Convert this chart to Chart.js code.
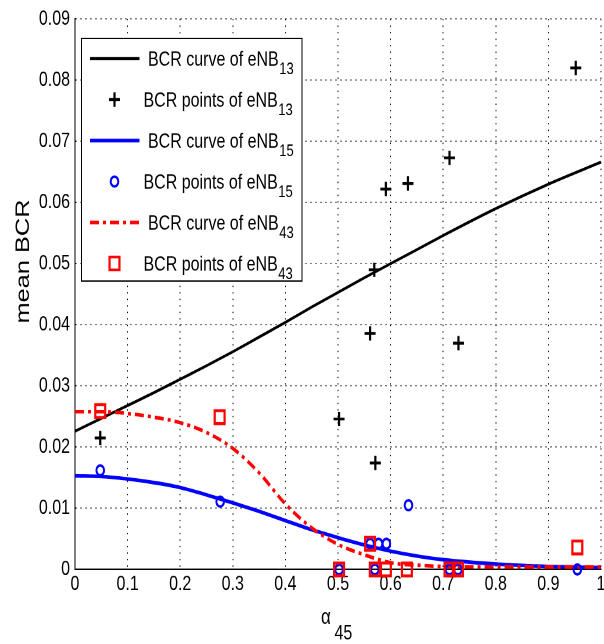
<!DOCTYPE html>
<html>
<head>
<meta charset="utf-8">
<script src="https://cdn.jsdelivr.net/npm/chart.js@4/dist/chart.umd.min.js"></script>
<style>
  html { margin: 0; padding: 0; overflow: hidden; background: #fff; }
  body { margin: 0; padding: 0; width: 604px; height: 644px; overflow: hidden; background: #fff; }
  /* a imagem original foi esticada na vertical, então esticamos o canvas também */
  #wrap { position: relative; width: 640px; height: 495px; transform: scaleY(1.301); transform-origin: 0 0; }
</style>
</head>
<body>
<div id="wrap"><canvas id="myChart"></canvas></div>
<script>
// Eixos
const xTickValues = [0, 0.1, 0.2, 0.3, 0.4, 0.5, 0.6, 0.7, 0.8, 0.9, 1];
const xTickLabels = ['0', '0.1', '0.2', '0.3', '0.4', '0.5', '0.6', '0.7', '0.8', '0.9', '1'];
const yTickValues = [0, 0.01, 0.02, 0.03, 0.04, 0.05, 0.06, 0.07, 0.08, 0.09];
const yTickLabels = ['0', '0.01', '0.02', '0.03', '0.04', '0.05', '0.06', '0.07', '0.08', '0.09'];

// Curvas
const curveX = [0, 0.05, 0.1, 0.15, 0.2, 0.25, 0.3, 0.35, 0.4, 0.45, 0.5, 0.55, 0.6, 0.65, 0.7, 0.8, 0.9, 1];
const curve13 = [0.0226, 0.0247, 0.0268, 0.0289, 0.0311, 0.0333, 0.0356, 0.0380, 0.0404, 0.0429, 0.0453, 0.0477, 0.0500, 0.0523, 0.0546, 0.0590, 0.0630, 0.0666];
const curve15 = [0.0153, 0.0152, 0.0148, 0.0142, 0.0134, 0.0122, 0.0109, 0.0095, 0.0080, 0.0065, 0.0052, 0.0040, 0.0030, 0.0022, 0.0016, 0.0009, 0.0005, 0.0003];
const curve43 = [0.0258, 0.0258, 0.0255, 0.0249, 0.0240, 0.0224, 0.0198, 0.0158, 0.0107, 0.0068, 0.0041, 0.0024, 0.0011, 0.0007, 0.0005, 0.0004, 0.0004, 0.0004];

// Pontos
const points13X = [0.048, 0.502, 0.561, 0.569, 0.571, 0.591, 0.633, 0.712, 0.729, 0.952];
const points13Y = [0.0215, 0.0246, 0.0386, 0.0490, 0.0174, 0.0622, 0.0631, 0.0673, 0.0370, 0.0820];
const points15X = [0.048, 0.276, 0.634, 0.561, 0.577, 0.592, 0.502, 0.570, 0.712, 0.728, 0.955];
const points15Y = [0.0162, 0.0111, 0.0105, 0.0042, 0.0042, 0.0042, 0, 0, 0, 0, 0];
const points43X = [0.048, 0.275, 0.561, 0.502, 0.570, 0.591, 0.631, 0.712, 0.728, 0.955];
const points43Y = [0.0259, 0.0249, 0.0042, 0, 0, 0, 0, 0, 0, 0.0036];

// Legenda
const legendLabels = ['BCR curve of eNB', 'BCR points of eNB', 'BCR curve of eNB', 'BCR points of eNB', 'BCR curve of eNB', 'BCR points of eNB'];
const legendSubs = ['13', '13', '15', '15', '43', '43'];

const FONT = '"Liberation Sans", Arial, Helvetica, sans-serif';
const toXY = (xs, ys) => xs.map((x, i) => ({ x, y: ys[i] }));

const curveSet = (label, ys, color, width, dash, order) => ({
  label, data: toXY(curveX, ys), showLine: true, borderColor: color, backgroundColor: color,
  borderWidth: width, borderDash: dash, pointRadius: 0, cubicInterpolationMode: 'monotone', order,
});
const pointSet = (label, xs, ys, color, style, radius, width, order) => ({
  label, data: toXY(xs, ys), showLine: false, borderColor: color, backgroundColor: 'rgba(0,0,0,0)',
  pointStyle: style, pointRadius: radius, borderWidth: width, clip: false, order,
});

const datasets = [
  curveSet('curve13', curve13, '#000000', 2.2, [], 5),
  pointSet('points13', points13X, points13Y, '#000000', 'cross', 5.5, 2.2, 2),
  curveSet('curve15', curve15, '#0000ff', 2.8, [], 4),
  pointSet('points15', points15X, points15Y, '#0000ff', 'circle', 3.8, 2, 1),
  curveSet('curve43', curve43, '#ff0000', 2.8, [9, 4, 3, 4], 3),
  pointSet('points43', points43X, points43Y, '#ff0000', 'rect', 7, 2.2, 0),
];

// Desenha um marcador da legenda
const drawMarker = (ctx, ds, x, y) => {
  ctx.save();
  ctx.strokeStyle = ds.borderColor;
  ctx.lineWidth = ds.borderWidth;
  const r = ds.pointRadius;
  ctx.beginPath();
  if (ds.pointStyle === 'cross') {
    ctx.moveTo(x - r, y); ctx.lineTo(x + r, y);
    ctx.moveTo(x, y - r); ctx.lineTo(x, y + r);
  } else if (ds.pointStyle === 'circle') {
    ctx.arc(x, y, r, 0, Math.PI * 2);
  } else {
    const s = r * Math.SQRT1_2;
    ctx.rect(x - s, y - s, 2 * s, 2 * s);
  }
  ctx.stroke();
  ctx.restore();
};

const drawSubText = (ctx, x, y, main, sub, size, subSize, drop) => {
  ctx.font = `${size}px ${FONT}`;
  ctx.fillText(main, x, y);
  const w = ctx.measureText(main).width;
  ctx.font = `${subSize}px ${FONT}`;
  ctx.fillText(sub, x + w + 0.5, y + drop);
};

// Plugin: legenda estilo MATLAB e títulos com subscrito
const matlabDecor = {
  id: 'matlabDecor',
  afterDraw(chart) {
    const ctx = chart.ctx;
    ctx.save();
    // caixa da legenda
    const box = { left: 81, top: 29, right: 301.5, bottom: 215.5 };
    ctx.fillStyle = '#fff';
    ctx.fillRect(box.left, box.top, box.right - box.left, box.bottom - box.top);
    ctx.strokeStyle = '#000';
    ctx.lineWidth = 1;
    ctx.strokeRect(box.left + 0.5, box.top + 0.5, box.right - box.left, box.bottom - box.top);

    chart.data.datasets.forEach((ds, i) => {
      const yc = 45 + i * 31.5;
      if (ds.showLine) {
        ctx.save();
        ctx.strokeStyle = ds.borderColor;
        ctx.lineWidth = ds.borderWidth;
        ctx.setLineDash(ds.borderDash || []);
        ctx.beginPath();
        ctx.moveTo(90, yc);
        ctx.lineTo(139.5, yc);
        ctx.stroke();
        ctx.restore();
      } else {
        drawMarker(ctx, ds, 114.5, yc);
      }
      ctx.fillStyle = '#000';
      ctx.textAlign = 'left';
      ctx.textBaseline = 'alphabetic';
      const tx = ds.showLine ? 148 : 143.5;
      drawSubText(ctx, tx, yc + 5.5, legendLabels[i], legendSubs[i], 16, 13, 6.3);
    });

    // rótulo do eixo y
    ctx.save();
    ctx.translate(29, 201);
    ctx.rotate(-Math.PI / 2);
    ctx.textAlign = 'center';
    ctx.textBaseline = 'alphabetic';
    ctx.font = `19.5px ${FONT}`;
    ctx.fillStyle = '#000';
    ctx.fillText('mean BCR', 0, 0);
    ctx.restore();

    // rótulo do eixo x (alfa com subscrito)
    ctx.fillStyle = '#000';
    ctx.textAlign = 'left';
    ctx.textBaseline = 'alphabetic';
    ctx.font = `17px ${FONT}`;
    ctx.fillText('\u03b1', 321, 479.3);
    ctx.font = `16px ${FONT}`;
    ctx.fillText('45', 334.5, 491.5);
    ctx.restore();
  }
};

const gridStyle = {
  grid: { color: '#000', lineWidth: 1, drawTicks: false },
  border: { display: true, color: '#000', width: 1, dash: [1, 4] },
};

new Chart(document.querySelector('#myChart').getContext('2d'), {
  type: 'scatter',
  data: { datasets },
  options: {
    responsive: true,
    maintainAspectRatio: false,
    animation: false,
    devicePixelRatio: 2,
    events: [],
    layout: { padding: { top: 11.5, right: 39, left: 0, bottom: 0 } },
    plugins: { legend: { display: false }, tooltip: { enabled: false } },
    scales: {
      x: {
        type: 'linear', min: 0, max: 1,
        ...gridStyle,
        afterBuildTicks: (s) => { s.ticks = xTickValues.map(v => ({ value: v })); },
        afterFit: (s) => { s.height = 57.3; },
        ticks: {
          color: '#000', padding: 2, maxRotation: 0, autoSkip: false,
          font: { family: FONT, size: 16 },
          callback: (v, i) => xTickLabels[i],
        },
      },
      y: {
        type: 'linear', min: 0, max: 0.09,
        ...gridStyle,
        afterBuildTicks: (s) => { s.ticks = yTickValues.map(v => ({ value: v })); },
        afterFit: (s) => { s.width = 75; },
        ticks: {
          color: '#000', padding: 5, autoSkip: false,
          font: { family: FONT, size: 16 },
          callback: (v, i) => yTickLabels[i],
        },
      },
    },
  },
  plugins: [matlabDecor],
});
</script>
</body>
</html>
